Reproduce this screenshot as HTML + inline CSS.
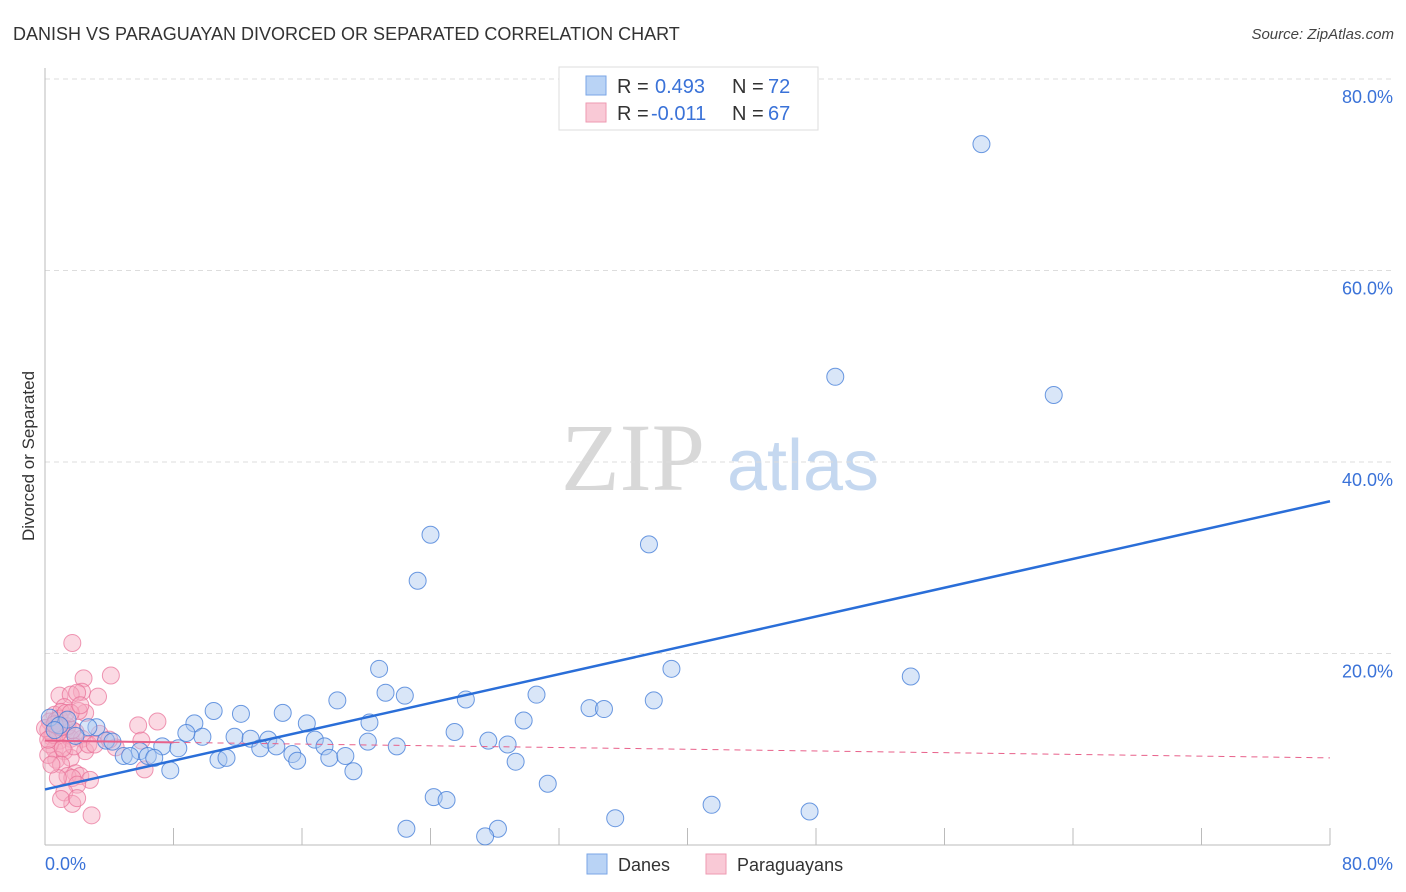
<!DOCTYPE html>
<html><head><meta charset="utf-8"><style>
body{margin:0;background:#fff;font-family:"Liberation Sans",sans-serif;}
svg{display:block}
</style></head><body>
<svg id="chart" width="1406" height="892" viewBox="0 0 1406 892" xmlns="http://www.w3.org/2000/svg">
<text x="13" y="40" font-size="18" fill="#333">DANISH VS PARAGUAYAN DIVORCED OR SEPARATED CORRELATION CHART</text>
<text x="1394" y="39" font-size="15" fill="#444" font-style="italic" text-anchor="end">Source: ZipAtlas.com</text>
<text transform="translate(34,456) rotate(-90)" font-size="17" fill="#333" text-anchor="middle">Divorced or Separated</text>
<g>
<text x="633" y="490" font-size="96" font-family="Liberation Serif,serif" fill="#d8d8d8" text-anchor="middle">ZIP</text>
<text x="803" y="490" font-size="72" fill="#c5d8f0" text-anchor="middle">atlas</text>
</g>
<g id="grid"></g>
<g id="axes"></g>
<g id="marks"></g>
<g>
<rect x="559" y="67" width="259" height="63" fill="#fff" stroke="#ddd"/>
<rect x="586" y="76" width="20" height="19" fill="#b9d3f5" stroke="#7aa6e6"/>
<rect x="586" y="103" width="20" height="19" fill="#f9c9d6" stroke="#ee9ab2"/>
<text x="617" y="93" font-size="20" fill="#333">R = </text><text x="655" y="93" font-size="20" fill="#3a72d8">0.493</text>
<text x="732" y="93" font-size="20" fill="#333">N = </text><text x="768" y="93" font-size="20" fill="#3a72d8">72</text>
<text x="617" y="120" font-size="20" fill="#333">R = </text><text x="651" y="120" font-size="20" fill="#3a72d8">-0.011</text>
<text x="732" y="120" font-size="20" fill="#333">N = </text><text x="768" y="120" font-size="20" fill="#3a72d8">67</text>
</g>
<g>
<rect x="587" y="854" width="20" height="20" fill="#b9d3f5" stroke="#7aa6e6"/>
<text x="618" y="871" font-size="18" fill="#333">Danes</text>
<rect x="706" y="854" width="20" height="20" fill="#f9c9d6" stroke="#ee9ab2"/>
<text x="737" y="871" font-size="18" fill="#333">Paraguayans</text>
</g>
</svg>
<script>
const yTicks=[20,40,60,80];
const yTickLabels=["20.0%","40.0%","60.0%","80.0%"];
const danesX=[58.3,49.2,62.8,24.0,37.6,23.2,39.0,53.9,20.8,21.2,22.4,18.2,26.2,30.6,37.9,33.9,34.8,10.5,12.2,14.8,16.3,9.3,20.2,29.8,3.2,2.7,1.4,0.3,9.8,8.8,11.8,12.8,13.9,16.8,17.4,20.1,21.9,25.5,27.6,28.8,3.8,4.2,7.3,8.3,5.9,4.9,5.3,6.4,6.8,13.4,14.4,15.4,15.7,10.8,11.3,17.7,18.7,19.2,7.8,29.3,31.3,24.2,25.0,41.5,47.6,22.5,28.2,27.4,35.5,0.9,0.6,1.9];
const danesY=[73.2,48.9,47.0,32.4,31.4,27.6,18.4,17.6,18.4,15.9,15.6,15.1,15.2,15.7,15.1,14.3,14.2,14.0,13.7,13.8,12.7,12.7,12.8,13.0,12.3,12.3,13.1,13.3,11.3,11.7,11.3,11.1,11.0,11.0,10.3,10.8,10.3,11.8,10.9,10.5,10.9,10.8,10.3,10.1,9.8,9.3,9.3,9.3,9.1,10.1,10.3,9.5,8.8,8.9,9.1,9.1,9.3,7.7,7.8,8.7,6.4,5.0,4.7,4.2,3.5,1.7,1.7,0.9,2.8,12.5,12.0,11.4];
const parX=[1.7,4.1,2.4,2.3,0.9,1.6,3.3,2.0,1.2,0.6,1.0,7.0,5.8,0.3,0.8,1.3,1.9,0.4,0.9,1.6,2.3,3.4,4.4,6.0,0.6,1.2,0.3,2.5,0.7,1.6,0.2,1.0,6.2,1.9,1.4,2.2,1.7,2.8,0.8,2.0,1.2,1.7,1.0,2.0,2.9,0.2,0.5,0.0,0.7,0.9,1.4,1.8,1.1,2.7,3.1,0.4,4.0,2.5,2.1,1.3,1.7,0.8,0.2,1.0,0.6,1.6,2.2];
const parY=[21.1,17.7,17.4,16.0,15.6,15.7,15.5,15.9,14.4,13.6,13.9,12.9,12.5,12.9,12.4,12.1,11.8,11.3,10.9,11.1,11.1,11.6,10.2,10.9,10.0,9.8,10.5,9.8,8.9,9.1,9.4,8.4,7.9,7.5,7.2,7.2,7.0,6.8,7.0,6.3,5.5,4.3,4.8,4.9,3.1,12.0,11.5,12.2,13.0,13.2,12.4,10.3,10.1,10.5,10.5,8.4,11.0,13.8,14.0,13.8,12.0,11.7,11.0,12.3,12.6,13.8,14.6];
const trendDanes=[5.8,35.9];
const trendPar=[10.9,9.1];

const NS="http://www.w3.org/2000/svg";
const X0=45,X1=1330,Y0=845,YTOP=79;
function sx(v){return X0+v/80*(X1-X0);}
function sy(v){return Y0-v/80*(Y0-YTOP);}
function mk(tag,attrs,parent){const e=document.createElementNS(NS,tag);for(const k in attrs)e.setAttribute(k,attrs[k]);parent.appendChild(e);return e;}
const grid=document.getElementById('grid'),axes=document.getElementById('axes'),marks=document.getElementById('marks');
yTicks.forEach((t,i)=>{
 const l=mk('line',{x1:X0,x2:1394,y1:sy(t),y2:sy(t),stroke:'#ddd','stroke-dasharray':'5,4'},grid);
 
 
 const tx=mk('text',{x:1393,y:sy(t)+24,'font-size':18,fill:'#3a72d8','text-anchor':'end'},axes);
 tx.textContent=yTickLabels[i];
 
 
});
const ax=mk('line',{x1:X0,x2:X0,y1:68,y2:Y0,stroke:'#bbb'},axes);


const bx=mk('line',{x1:X0,x2:X1,y1:Y0,y2:Y0,stroke:'#bbb'},axes);


for(let i=1;i<=10;i++){
 const t=mk('line',{x1:sx(i*8),x2:sx(i*8),y1:828,y2:Y0,stroke:'#bbb'},axes);
 
 
}
[["0.0%",X0,'start'],["80.0%",1393,'end']].forEach(a=>{
 const t=mk('text',{x:a[1],y:870,'font-size':18,fill:'#3a72d8','text-anchor':a[2]},axes);
 t.textContent=a[0];
 
 
});
parX.forEach((v,i)=>{
 const c=mk('circle',{cx:sx(v),cy:sy(parY[i]),r:8.5,fill:'rgba(246,170,192,0.45)',stroke:'rgba(232,110,150,0.7)','stroke-width':1},marks);
 
 
});
danesX.forEach((v,i)=>{
 const c=mk('circle',{cx:sx(v),cy:sy(danesY[i]),r:8.5,fill:'rgba(170,200,240,0.45)',stroke:'rgba(60,120,215,0.75)','stroke-width':1},marks);
 
 
});
const pl=mk('line',{x1:sx(0),y1:sy(trendPar[0]),x2:sx(8),y2:sy(trendPar[0]+(trendPar[1]-trendPar[0])*0.1),stroke:'#e8608a','stroke-width':2},marks);


const pd=mk('line',{x1:sx(8),y1:sy(trendPar[0]+(trendPar[1]-trendPar[0])*0.1),x2:sx(80),y2:sy(trendPar[1]),stroke:'#e8608a','stroke-width':1,'stroke-dasharray':'6,5'},marks);


const dl=mk('line',{x1:sx(0),y1:sy(trendDanes[0]),x2:sx(80),y2:sy(trendDanes[1]),stroke:'#2a6ed8','stroke-width':2.5},marks);


</script>
</body></html>
